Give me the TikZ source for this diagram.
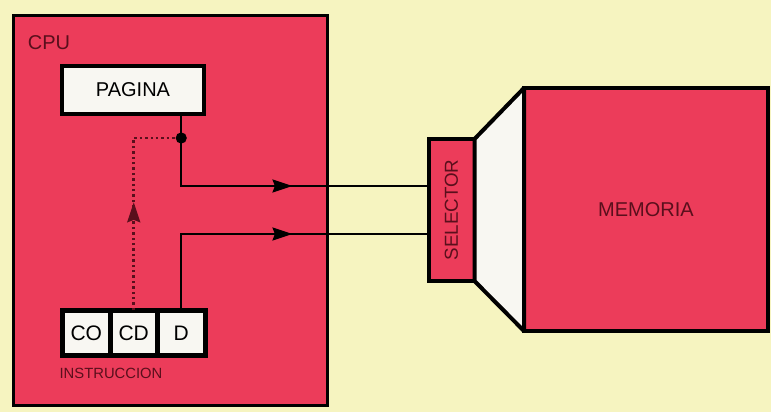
\documentclass[tikz,border=0pt]{standalone}
\usepackage{fontspec}
\setmainfont{Liberation Sans}
\usetikzlibrary{positioning,arrows.meta,decorations.markings}
\definecolor{fondo}{RGB}{246,244,192}
\definecolor{rojo}{RGB}{236,60,90}
\definecolor{granate}{RGB}{90,15,28}
\definecolor{blanco}{RGB}{248,247,242}
\begin{document}
\begin{tikzpicture}[x=0.5pt, y=-0.5pt,
    caja/.style={draw=black, line width=2pt, inner sep=0pt, outer sep=0pt, font=\fontsize{10}{12}\selectfont},
    celda/.style={caja, fill=blanco, line width=2.5pt, minimum width=23.75pt, minimum height=22.75pt, font=\fontsize{10.5}{12}\selectfont},
    flecha/.style={postaction={decorate}, decoration={markings, mark=at position #1 with {\arrow{Stealth[length=10pt,width=6.5pt,inset=1.2pt]}}}},
    bus/.style={line width=1.1pt, flecha=-68pt}]
            \fill[fondo] (0,0) rectangle (771,412);
            \useasboundingbox (0,0) rectangle (771,412);
            \node[caja, fill=rojo, line width=1.5pt, minimum width=157pt, minimum height=195pt] (cpu) at (170,210) {};
            \node[text=granate, font=\fontsize{10}{12}\selectfont] (cpulbl) at (49,43) {CPU};
            \node[caja, fill=blanco, minimum width=71pt, minimum height=24pt] (pagina) at (133,90) {PAGINA};
            \node[celda] (co) at (86.25,333) {CO};
            \node[celda, right=0pt of co] (cd) {CD};
            \node[celda, right=0pt of cd] (d) {D};
            \node[text=granate, font=\fontsize{7.4}{9}\selectfont] (instr) at (111,373) {INSTRUCCION};
            \node[caja, fill=rojo, minimum width=23pt, minimum height=71pt] (sel) at (451.5,210) {};
            \node[rotate=90, font=\fontsize{9.4}{11}\selectfont, text=granate] (seltxt) at (sel) {SELECTOR};
            \node[caja, fill=rojo, text=granate, minimum width=122pt, minimum height=121.5pt] (mem) at (646,209.5) {MEMORIA};
            \draw[line width=2pt, fill=blanco, line join=round] (sel.north east) -- (mem.north west) -- (mem.south west) -- (sel.south east) -- cycle;
            \path (pagina.south -| d.north) ++(0,24) coordinate (nodo);
            \draw[bus] (pagina.south -| nodo) -- (nodo) |- ([yshift=12pt]sel.west);
            \draw[bus] (d.north) |- ([yshift=-12pt]sel.west);
            \draw[granate, line width=1.3pt, dash pattern=on 1.2pt off 1.5pt, flecha=54pt] (cd.north) |- (nodo);
            \fill (nodo) circle[radius=2.8pt];
        \end{tikzpicture}
\end{document}
